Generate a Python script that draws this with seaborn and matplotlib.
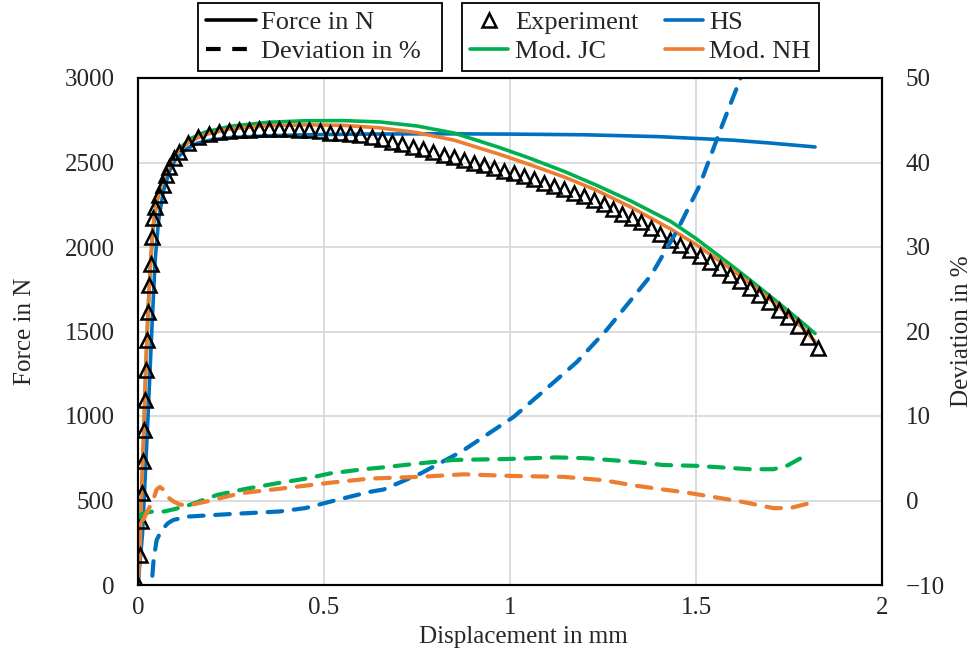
import numpy as np
import pandas as pd
import matplotlib.pyplot as plt
import seaborn as sns
from matplotlib.lines import Line2D

# experiment (triangles)
exp_x = [0, 0.005, 0.007, 0.010, 0.013, 0.016, 0.018, 0.021, 0.023, 0.027, 0.029, 0.034,
         0.038, 0.041, 0.047, 0.056, 0.066, 0.075, 0.084, 0.096, 0.110, 0.135, 0.162, 0.190,
         0.218, 0.245, 0.272, 0.299, 0.326, 0.353, 0.380, 0.407, 0.434, 0.461, 0.488, 0.515,
         0.542, 0.570, 0.598, 0.628, 0.655, 0.682, 0.711, 0.738, 0.766, 0.793, 0.822, 0.849,
         0.876, 0.903, 0.930, 0.957, 0.984, 1.011, 1.038, 1.065, 1.092, 1.118, 1.145, 1.172,
         1.199, 1.226, 1.252, 1.277, 1.302, 1.327, 1.352, 1.378, 1.404, 1.430, 1.457, 1.484,
         1.511, 1.538, 1.565, 1.591, 1.618, 1.645, 1.670, 1.697, 1.724, 1.748, 1.775, 1.802,
         1.829]
exp_f = [0, 175, 380, 545, 735, 915, 1095, 1270, 1450, 1617, 1775, 1900,
         2061, 2170, 2239, 2308, 2367, 2426, 2475, 2525, 2564, 2617, 2650, 2668,
         2678, 2686, 2690, 2694, 2696, 2697, 2697, 2696, 2694, 2690, 2684, 2677,
         2672, 2668, 2662, 2653, 2638, 2623, 2609, 2594, 2578, 2563, 2546, 2533,
         2516, 2500, 2484, 2467, 2452, 2436, 2418, 2400, 2381, 2362, 2342, 2322,
         2300, 2278, 2254, 2226, 2198, 2171, 2145, 2112, 2078, 2044, 2012, 1980,
         1945, 1912, 1875, 1836, 1796, 1756, 1716, 1675, 1630, 1585, 1530, 1465,
         1400]

# HS force
hs_x = [0, 0.012, 0.0215, 0.027, 0.037, 0.046, 0.055, 0.068, 0.085, 0.10, 0.13, 0.16,
        0.20, 0.25, 0.35, 0.45, 0.6, 0.8, 1.0, 1.2, 1.4, 1.6, 1.7, 1.82]
hs_f = [0, 300, 740, 1000, 1500, 1920, 2150, 2330, 2450, 2515, 2580, 2615,
        2635, 2648, 2658, 2664, 2668, 2670, 2668, 2664, 2653, 2632, 2615, 2592]

# Mod. JC force
jc_x = [0, 0.005, 0.010, 0.016, 0.021, 0.027, 0.033, 0.040, 0.050, 0.065, 0.085, 0.11,
        0.14, 0.18, 0.25, 0.35, 0.45, 0.55, 0.65, 0.75, 0.85, 0.967, 1.05, 1.146, 1.23,
        1.325, 1.433, 1.5, 1.594, 1.645, 1.7, 1.75, 1.79, 1.82]
jc_f = [0, 180, 560, 930, 1280, 1620, 1870, 2100, 2260, 2390, 2495, 2580,
        2640, 2680, 2715, 2738, 2747, 2748, 2740, 2716, 2674, 2592, 2528, 2447, 2368,
        2272, 2150, 2050, 1893, 1805, 1708, 1618, 1545, 1488]

# Mod. NH force
nh_x = [0, 0.005, 0.010, 0.016, 0.021, 0.027, 0.033, 0.040, 0.050, 0.065, 0.085, 0.11,
        0.14, 0.18, 0.25, 0.35, 0.45, 0.55, 0.65, 0.75, 0.85, 0.967, 1.05, 1.146, 1.23,
        1.325, 1.433, 1.5, 1.594, 1.645, 1.7, 1.75, 1.79, 1.82]
nh_f = [0, 180, 560, 930, 1280, 1620, 1880, 2120, 2270, 2390, 2490, 2570,
        2625, 2665, 2700, 2718, 2723, 2720, 2705, 2677, 2632, 2552, 2490, 2414, 2338,
        2236, 2105, 2015, 1870, 1785, 1688, 1595, 1515, 1440]

# deviations in %
hs_dx = [0.033, 0.042, 0.050, 0.060, 0.068, 0.080, 0.095, 0.135, 0.25, 0.38, 0.45, 0.52,
         0.62, 0.66, 0.76, 0.87, 1.01, 1.11, 1.18, 1.26, 1.38, 1.45, 1.51, 1.565, 1.62,
         1.70, 1.75, 1.80, 1.82]
hs_d = [-12, -7, -4.7, -3.8, -3.3, -2.7, -2.3, -1.9, -1.6, -1.3, -0.9, -0.1,
        1.0, 1.3, 3.2, 5.8, 9.9, 13.7, 16.4, 20.2, 26.7, 32.0, 37.3, 43.8, 50,
        56, 64, 77, 85]
jc_dx = [0.003, 0.015, 0.04, 0.07, 0.10, 0.14, 0.212, 0.292, 0.382, 0.453, 0.516, 0.606,
         0.655, 0.758, 0.848, 0.982, 1.125, 1.206, 1.296, 1.349, 1.412, 1.502, 1.645,
         1.708, 1.744, 1.802]
jc_d = [-2.0, -1.5, -1.3, -1.3, -1.0, -0.5, 0.65, 1.4, 2.1, 2.6, 3.2, 3.7,
        3.9, 4.4, 4.8, 4.9, 5.1, 5.0, 4.7, 4.5, 4.2, 4.1, 3.7,
        3.7, 4.1, 5.5]
nh_dx = [0.014, 0.041, 0.050, 0.059, 0.068, 0.077, 0.095, 0.113, 0.144, 0.202, 0.274,
         0.382, 0.516, 0.624, 0.758, 0.875, 1.009, 1.143, 1.251, 1.331, 1.412, 1.466,
         1.618, 1.708, 1.753, 1.824]
nh_d = [-2.3, 0.1, 1.3, 1.6, 1.3, 0.5, -0.1, -0.5, -0.5, 0.06, 0.85,
        1.4, 2.1, 2.6, 2.8, 3.1, 2.9, 2.8, 2.4, 1.8, 1.3, 1.0,
        -0.1, -0.9, -0.9, -0.1]

blue, green, orange = "#0070C0", "#00B050", "#ED7D31"

sns.set_style("white")
plt.rcParams['font.family'] = ['Liberation Serif', 'DejaVu Serif']
plt.rcParams['font.size'] = 18

fig = plt.figure(figsize=(9.76, 6.56), dpi=100)
ax = fig.add_axes([138/976, 1-585/656, 744/976, 507/656])
ax2 = ax.twinx()

lw = 2.6
sns.lineplot(x=hs_x, y=hs_f, ax=ax, color=blue, linewidth=lw, estimator=None, sort=False)
sns.lineplot(x=jc_x, y=jc_f, ax=ax, color=green, linewidth=lw, estimator=None, sort=False)
sns.lineplot(x=nh_x, y=nh_f, ax=ax, color=orange, linewidth=lw, estimator=None, sort=False)
sns.lineplot(x=exp_x, y=exp_f, ax=ax, estimator=None, sort=False, linestyle='',
             marker='^', markersize=10, markerfacecolor='none',
             markeredgecolor='black', markeredgewidth=1.8, zorder=5)

dlw = 3.0
dash = (0, (3.5, 2.8))
for dx, dv, c in [(hs_dx, hs_d, blue), (jc_dx, jc_d, green), (nh_dx, nh_d, orange)]:
    sns.lineplot(x=dx, y=dv, ax=ax2, color=c, linewidth=dlw, estimator=None, sort=False,
                 linestyle=dash, dash_capstyle='round')

ax.set_xlim(0, 2)
ax.set_ylim(0, 3000)
ax2.set_ylim(-10, 50)
ax.set_xticks([0, 0.5, 1, 1.5, 2])
ax.set_xticklabels(['0', '0.5', '1', '1.5', '2'])
ax.set_yticks(range(0, 3001, 500))
ax2.set_yticks(range(-10, 51, 10))
ax.grid(True, color='#D9D9D9', lw=1.3)
ax2.grid(False)
ax.tick_params(length=0, labelsize=18)
ax.tick_params(axis='y', pad=17)
ax.tick_params(axis='x', pad=9)
ax2.tick_params(length=0, labelsize=18, pad=17)
ax.set_xlabel('')
ax.set_ylabel('')
for a in (ax, ax2):
    for s in a.spines.values():
        s.set_color('black')
        s.set_linewidth(1.5)

fig.text(25/976, 1-331/656, 'Force in N', rotation=90, ha='center', va='center', fontsize=18)
fig.text(962/976, 1-331/656, 'Deviation in %', rotation=90, ha='center', va='center', fontsize=18)
fig.text(523/976, 1-637/656, 'Displacement in mm', ha='center', va='center', fontsize=18)

h1 = [Line2D([], [], color='black', linewidth=lw),
      Line2D([], [], color='black', linewidth=dlw, linestyle=dash)]
leg1 = fig.legend(h1, ['Force in N', 'Deviation in %'], loc='upper left', mode='expand',
                  bbox_to_anchor=(198/976, 1-70/656, 244/976, 67/656), fontsize=19,
                  frameon=True, fancybox=False, edgecolor='black', framealpha=1,
                  handlelength=1.9, handletextpad=0.2, labelspacing=0.2, borderpad=0.3,
                  borderaxespad=0)
leg1.get_frame().set_linewidth(1.3)

h2 = [Line2D([], [], linestyle='', marker='^', markersize=10, markerfacecolor='none',
             markeredgecolor='black', markeredgewidth=1.8),
      Line2D([], [], color=green, linewidth=lw),
      Line2D([], [], color=blue, linewidth=lw),
      Line2D([], [], color=orange, linewidth=lw)]
leg2 = fig.legend(h2, ['Experiment', 'Mod. JC', 'HS', 'Mod. NH'], loc='upper left', ncol=2,
                  bbox_to_anchor=(462/976, 1-3/656), fontsize=19, frameon=True,
                  fancybox=False, edgecolor='black', framealpha=1, handlelength=1.45,
                  handletextpad=0.25, labelspacing=0.2, borderpad=0.3, columnspacing=1.0,
                  borderaxespad=0)
leg2.get_frame().set_linewidth(1.3)

fig.savefig('out.png', dpi=100)
